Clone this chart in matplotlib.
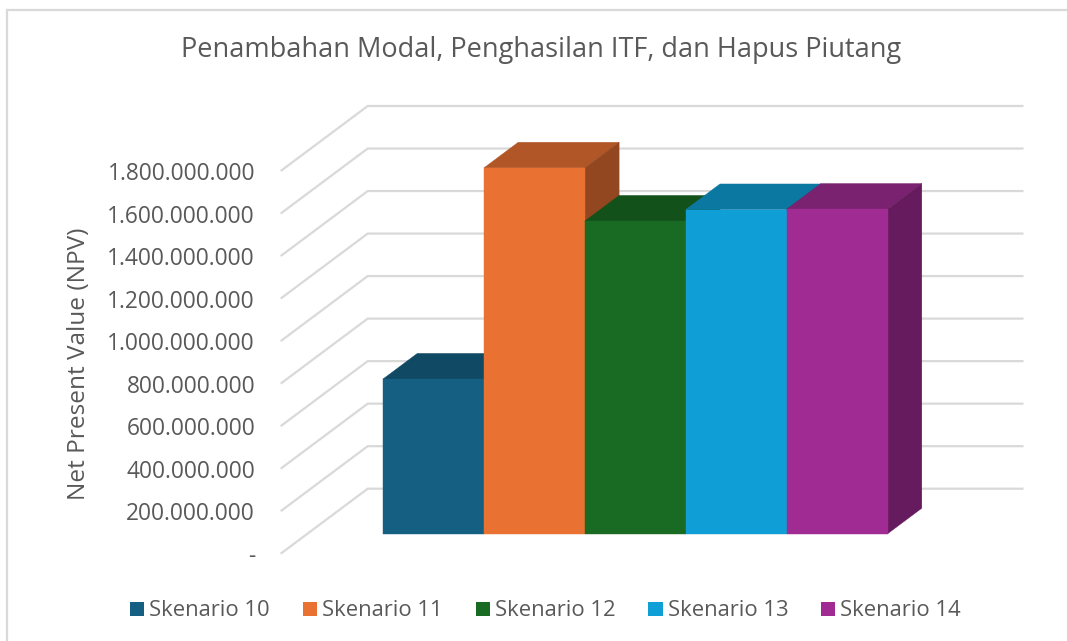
import matplotlib
matplotlib.use("Agg")
import matplotlib.pyplot as plt
from matplotlib.patches import Polygon, Patch
from matplotlib.lines import Line2D

# ---- data ----
scenarios = ["Skenario 10", "Skenario 11", "Skenario 12", "Skenario 13", "Skenario 14"]
npv = [728000000, 1721000000, 1471000000, 1525000000, 1527000000]
colors = ["#156082", "#E97132", "#196B24", "#0F9ED5", "#A02B93"]
tick_values = [0, 200000000, 400000000, 600000000, 800000000, 1000000000,
               1200000000, 1400000000, 1600000000, 1800000000]
tick_labels = ["-", "200.000.000", "400.000.000", "600.000.000", "800.000.000",
               "1.000.000.000", "1.200.000.000", "1.400.000.000", "1.600.000.000",
               "1.800.000.000"]
title = "Penambahan Modal, Penghasilan ITF, dan Hapus Piutang"
ylabel = "Net Present Value (NPV)"

# ---- layout (pixels of a 1067x641 canvas) ----
W, H = 1067, 641
TXT = "#595959"
GRID = "#D9D9D9"
FONT = "Open Sans"
plt.rcParams["font.family"] = [FONT, "DejaVu Sans"]

fig = plt.figure(figsize=(W / 100, H / 100), dpi=100, facecolor="white")
FL, FR, FT, FB = 280.7, 936.5, 171.0, 553.7
ax = fig.add_axes([FL / W, 1 - FB / H, (FR - FL) / W, (FB - FT) / H])
ax.patch.set_alpha(0)
for s in ax.spines.values():
    s.set_visible(False)

DX, DY = 87.0, 65.0          # depth of the 3D box in px
BARW = 100.9                 # px per category
ymax = 1800000000
x0_px = 356.4                # left bar edge in the front plane
ax.set_ylim(0, ymax)
ax.set_xlim(-0.5 + (FL - x0_px) / BARW, -0.5 + (FR - x0_px) / BARW)
ax.set_xticks([])
ax.set_yticks(tick_values)
ax.set_yticklabels(tick_labels, fontsize=16.4, color=TXT)
ax.tick_params(axis="y", length=0, pad=18.5)

xpx = (ax.get_xlim()[1] - ax.get_xlim()[0]) * DX / (FR - FL)   # depth in x data units
ypx = ymax * DY / (FB - FT)                                    # depth in y data units


def proj(x, y, d):
    return (x + d * xpx, y + d * ypx)


def shade(c, f):
    r, g, b = matplotlib.colors.to_rgb(c)
    return (r * f, g * f, b * f)


# walls' gridlines
xl, xr = ax.get_xlim()
for v in tick_values:
    a, b, c = proj(xl, v, 0), proj(xl, v, 1), proj(xr, v, 1)
    ax.add_line(Line2D([a[0], b[0], c[0]], [a[1], b[1], c[1]], color=GRID, lw=1.6,
                       zorder=1, clip_on=False, solid_joinstyle="miter",
                       solid_capstyle="butt"))

# bars
D0, D1 = 0.306, 0.70
for i, (v, c) in enumerate(zip(npv, colors)):
    x1, x2 = i - 0.5, i + 0.5
    z = 2 + i
    top = [proj(x1, v, D0), proj(x2, v, D0), proj(x2, v, D1), proj(x1, v, D1)]
    side = [proj(x2, 0, D0), proj(x2, v, D0), proj(x2, v, D1), proj(x2, 0, D1)]
    front = [proj(x1, 0, D0), proj(x2, 0, D0), proj(x2, v, D0), proj(x1, v, D0)]
    for pts, f in ((top, 0.76), (side, 0.63), (front, 1.0)):
        fc = shade(c, f)
        ax.add_patch(Polygon(pts, closed=True, facecolor=fc, edgecolor=fc, lw=0.3,
                             zorder=z, clip_on=False))

# chart frame: only top and left edges fall inside the picture
fig.add_artist(Line2D([7.5 / W, 1], [1 - 10 / H, 1 - 10 / H], color=GRID, lw=1.6,
                      transform=fig.transFigure))
fig.add_artist(Line2D([7 / W, 7 / W], [1 - 10 / H, 0], color=GRID, lw=1.6,
                      transform=fig.transFigure))

fig.text(541.5 / W, 1 - 50.5 / H, title, ha="center", va="center", fontsize=19.5, color=TXT)
fig.text(79 / W, 1 - 363.5 / H, ylabel, ha="center", va="center", rotation=90,
         fontsize=17.6, color=TXT)

# legend
handles = [Patch(facecolor=c, edgecolor="none", label=s) for c, s in zip(colors, scenarios)]
fig.legend(handles=handles, loc="center", bbox_to_anchor=(545.5 / W, 1 - 611 / H), ncol=5,
           frameon=False, fontsize=15.8, labelcolor=TXT, handlelength=0.64, handleheight=0.64,
           handletextpad=0.23, columnspacing=1.51, borderpad=0, borderaxespad=0)

fig.savefig("out.png", dpi=100, facecolor="white")
